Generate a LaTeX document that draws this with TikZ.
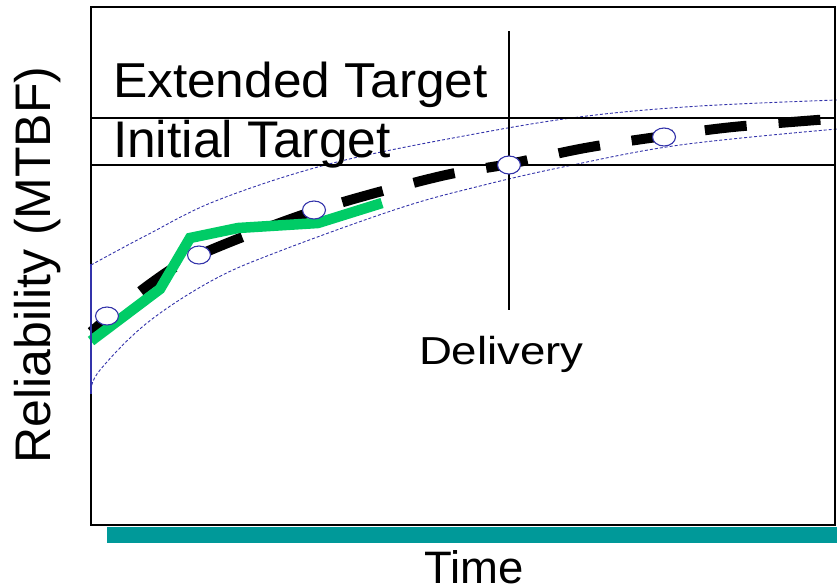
\documentclass[tikz,border=0pt]{standalone}
\usepackage{fontspec}
\setmainfont{Liberation Sans}
\definecolor{curvegreen}{RGB}{0,204,102}
\definecolor{boundblue}{RGB}{51,51,170}
\definecolor{barteal}{RGB}{0,153,153}
\tikzset{
  frameline/.style={draw=black, line width=2.4pt},
  targetline/.style={draw=black, line width=2pt},
  boundline/.style={draw=boundblue, line width=0.9pt, dash pattern=on 3pt off 2pt},
  planline/.style={draw=black, line width=10pt, dash pattern=on 42pt off 32pt, dash phase=10pt},
  actualline/.style={draw=curvegreen, line width=10.5pt, line join=miter},
  milestone/.style={draw=boundblue, fill=white, line width=1.1pt, ellipse, minimum width=23pt, minimum height=18pt, inner sep=0pt},
  label/.style={inner sep=0pt, outer sep=0pt, text=black}
}
\usetikzlibrary{shapes.geometric}
\begin{document}
\begin{tikzpicture}[x=1pt, y=-1pt]
  \useasboundingbox (0,0) rectangle (837,587);

  % confidence bounds
  \draw[boundline] plot[smooth, tension=0.6] coordinates {(91,265) (147,235) (218,200) (333,163) (480,133) (587,116) (700,106) (837,100)};
  \draw[boundline] plot[smooth, tension=0.6] coordinates {(91,390) (100,370) (147,323) (213,280) (280,251) (400,208) (480,186) (563,167) (680,145) (837,129)};

  % planned growth curve
  \draw[planline] plot[smooth, tension=0.55] coordinates {(91,332) (150,284) (199,255) (314,211) (437,177) (509,164) (585,148) (664,136) (733,127) (830,119)};

  % measured growth
  \draw[actualline] (91,341) -- (160,289) -- (190,238) -- (238,228) -- (318,223) -- (382,203);

  % time axis bar
  \fill[barteal] (107,527) rectangle (837,543);

  % chart frame and target levels
  \coordinate (tl) at (91,7);
  \coordinate (br) at (835,525);
  \draw[frameline] (tl) rectangle (br);
  \coordinate (ext-l) at (91,118);
  \coordinate (ext-r) at (835,118);
  \coordinate (ini-l) at (91,165);
  \coordinate (ini-r) at (835,165);
  \draw[targetline] (ext-l) -- (ext-r);
  \draw[targetline] (ini-l) -- (ini-r);

  % delivery marker
  \coordinate (del-top) at (509,31);
  \coordinate (del-bot) at (509,310);
  \draw[black, line width=1.5pt] (del-top) -- (del-bot);

  % start of the bound interval
  \coordinate (bnd-top) at (91,264);
  \coordinate (bnd-bot) at (91,394);
  \draw[boundblue, line width=2.5pt] (bnd-top) -- (bnd-bot);

  % milestones
  \node[milestone] (m1) at (107,316) {};
  \node[milestone] (m2) at (199,255) {};
  \node[milestone] (m3) at (314,210) {};
  \node[milestone] (m4) at (509,165) {};
  \node[milestone] (m5) at (664,137) {};

  % texts
  \node[label, anchor=base west] (ext) at (113,97) {\fontsize{49}{49}\selectfont\scalebox{1.05}[1]{Extended Target}};
  \node[label, anchor=base west] (ini) at (113,157) {\fontsize{51.5}{51.5}\selectfont Initial Target};
  \node[label, anchor=base west] (del) at (419,364) {\fontsize{39}{39}\selectfont\scalebox{1.17}[1]{Delivery}};
  \node[label, anchor=base west] (time) at (424,583) {\fontsize{45.5}{45.5}\selectfont Time};
  \node[label, anchor=base, rotate=90] (rel) at (50,265) {\fontsize{50}{50}\selectfont Reliability (MTBF)};
\end{tikzpicture}
\end{document}
